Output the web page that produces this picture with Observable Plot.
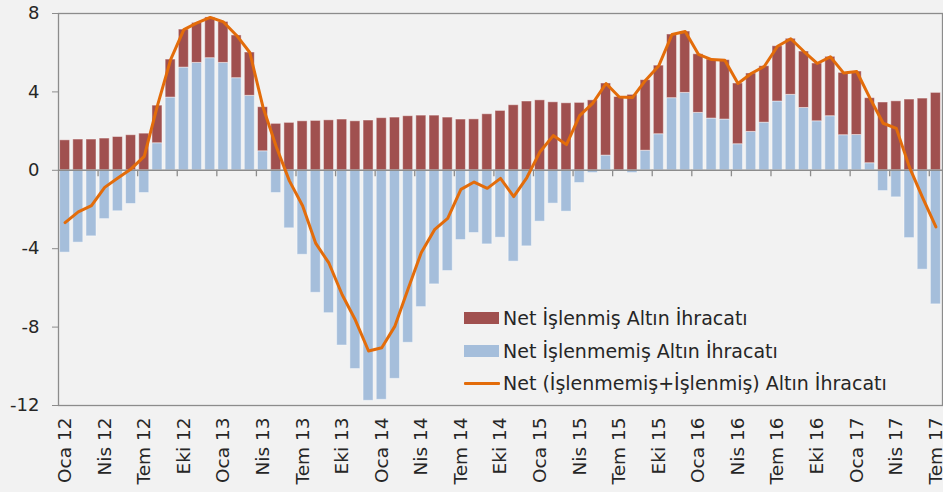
<!DOCTYPE html>
<html>
<head>
<meta charset="utf-8">
<script src="https://cdn.jsdelivr.net/npm/d3@7"></script>
<script src="https://cdn.jsdelivr.net/npm/@observablehq/plot@0.6"></script>
<style>
  html, body { margin: 0; padding: 0; background: #f2f2f2; }
  #wrap { position: relative; width: 943px; height: 492px; font-family: "DejaVu Sans", sans-serif; color: #262626; }
  .legend { position: absolute; left: 464px; top: 302px; font-size: 19px; line-height: 32.5px; }
  .legend .row { display: flex; align-items: center; height: 32.5px; white-space: nowrap; }
  .legend .sw { width: 35px; height: 12px; margin-right: 4px; }
  .legend .ln { width: 36px; height: 3px; margin-right: 3px; background: #e36c0a; border-radius: 1px; }
</style>
</head>
<body>
<div id="wrap"></div>
<script>
// Months Oca 2012 .. Tem 2017
const monthNames = ["Oca","Şub","Mar","Nis","May","Haz","Tem","Ağu","Eyl","Eki","Kas","Ara"];
const startYear = 2012;
const monthCount = 67;

// Net İşlenmiş Altın İhracatı (processed), bn USD
const processed = [
  1.53, 1.57, 1.57, 1.62, 1.70, 1.79, 1.87, 1.92, 1.94, 1.94, 2.04, 2.08,
  2.09, 2.18, 2.21, 2.25, 2.37, 2.42, 2.50, 2.52, 2.55, 2.59, 2.50, 2.54,
  2.66, 2.69, 2.76, 2.79, 2.79, 2.69, 2.59, 2.60, 2.86, 3.03, 3.32, 3.51,
  3.57, 3.47, 3.42, 3.44, 3.57, 3.68, 3.74, 3.85, 3.60, 3.50, 3.25, 3.13,
  2.99, 3.01, 3.03, 3.10, 2.98, 2.88, 2.82, 2.86, 2.88, 2.95, 3.03, 3.18,
  3.24, 3.32, 3.46, 3.52, 3.61, 3.66, 3.95
];
// Net İşlenmemiş Altın İhracatı (unprocessed)
const unprocessed = [
  -4.20, -3.69, -3.37, -2.49, -2.09, -1.72, -1.16, 1.38, 3.71, 5.24, 5.48, 5.72,
  5.48, 4.70, 3.80, 0.97, -1.16, -2.96, -4.31, -6.25, -7.29, -8.94, -10.14, -11.76,
  -11.71, -10.64, -8.80, -6.98, -5.82, -5.14, -3.56, -3.20, -3.78, -3.44, -4.66, -3.88,
  -2.62, -1.70, -2.11, -0.65, -0.14, 0.75, 0.00, -0.14, 1.00, 1.84, 3.68, 3.95,
  2.93, 2.64, 2.59, 1.33, 1.96, 2.43, 3.51, 3.85, 3.18, 2.50, 2.76, 1.79,
  1.80, 0.36, -1.06, -1.38, -3.46, -5.07, -6.84
];
// Net (İşlenmemiş+İşlenmiş) Altın İhracatı
const total = [
  -2.67, -2.12, -1.80, -0.87, -0.39, 0.07, 0.71, 3.30, 5.65, 7.18, 7.52, 7.80,
  7.57, 6.88, 6.01, 3.22, 1.21, -0.54, -1.81, -3.73, -4.74, -6.35, -7.64, -9.22,
  -9.05, -7.95, -6.04, -4.19, -3.03, -2.45, -0.97, -0.60, -0.92, -0.41, -1.34, -0.37,
  0.95, 1.77, 1.31, 2.79, 3.43, 4.43, 3.74, 3.71, 4.60, 5.34, 6.93, 7.08,
  5.92, 5.65, 5.62, 4.43, 4.94, 5.31, 6.33, 6.71, 6.06, 5.45, 5.79, 4.97,
  5.04, 3.68, 2.40, 2.14, 0.15, -1.41, -2.89
];
const yTicks = [8, 4, 0, -4, -8, -12];
const seriesNames = ["Net İşlenmiş Altın İhracatı", "Net İşlenmemiş Altın İhracatı", "Net (İşlenmemiş+İşlenmiş) Altın İhracatı"];
const colors = ["#a0504f", "#a5bedb", "#e36c0a"];

const months = d3.range(monthCount).map(i => {
  const m = i % 12, y = startYear + Math.floor(i / 12);
  return monthNames[m] + " " + String(y).slice(2);
});
const labelMonths = months.filter((d, i) => i % 3 === 0);
const tickMonths = months.filter((d, i) => i % 3 === 0 && i > 0);

const bars = [];
months.forEach((m, i) => {
  bars.push({month: m, series: seriesNames[1], value: unprocessed[i], ord: 0});
  bars.push({month: m, series: seriesNames[0], value: processed[i], ord: 1});
});
const lineData = months.map((m, i) => ({month: m, value: total[i]}));

const W = 943, H = 492, mL = 58, mR = 1, mT = 13, mB = 87;
const step = (W - mL - mR) / monthCount;

const chart = Plot.plot({
  width: W, height: H,
  marginLeft: mL, marginRight: mR, marginTop: mT, marginBottom: mB,
  style: {background: "#f2f2f2", fontFamily: "DejaVu Sans, sans-serif", fontSize: "18px", color: "#262626", overflow: "visible"},
  x: {type: "band", domain: months, paddingInner: 0.24, paddingOuter: 0.12, align: 0.5, round: false, label: null},
  y: {domain: [-12, 8], label: null},
  color: {domain: seriesNames, range: colors},
  marks: [
    Plot.barY(bars, Plot.stackY({
      x: "month", y: "value", fill: "series", order: (d) => d.ord,
      stroke: "#ffffff", strokeOpacity: 0.45, strokeWidth: 1
    })),
    Plot.ruleY([0], {stroke: "#8c8c8c", strokeWidth: 1.5}),
    Plot.ruleX(tickMonths, {x: d => d, y1: 0, y2: -0.33, dx: -step / 2, stroke: "#8c8c8c", strokeWidth: 1.3}),
    Plot.line(lineData, {x: "month", y: "value", stroke: colors[2], strokeWidth: 3, curve: "linear"}),
    Plot.frame({stroke: "#8c8c8c", strokeWidth: 1.3}),
    Plot.axisY({ticks: yTicks, tickSize: 6, tickPadding: 13, tickFormat: d => String(d), stroke: "#8c8c8c", fill: "#262626"}),
    Plot.axisX({ticks: labelMonths, tickSize: 0, tickPadding: 12, tickRotate: -90, fill: "#262626", fontSize: 18.5})
  ]
});

const wrap = document.getElementById("wrap");
wrap.appendChild(chart);

const legend = document.createElement("div");
legend.className = "legend";
legend.innerHTML =
  `<div class="row"><div class="sw" style="background:${colors[0]}"></div><span>${seriesNames[0]}</span></div>` +
  `<div class="row"><div class="sw" style="background:${colors[1]}"></div><span>${seriesNames[1]}</span></div>` +
  `<div class="row"><div class="ln"></div><span>${seriesNames[2]}</span></div>`;
wrap.appendChild(legend);
</script>
</body>
</html>
